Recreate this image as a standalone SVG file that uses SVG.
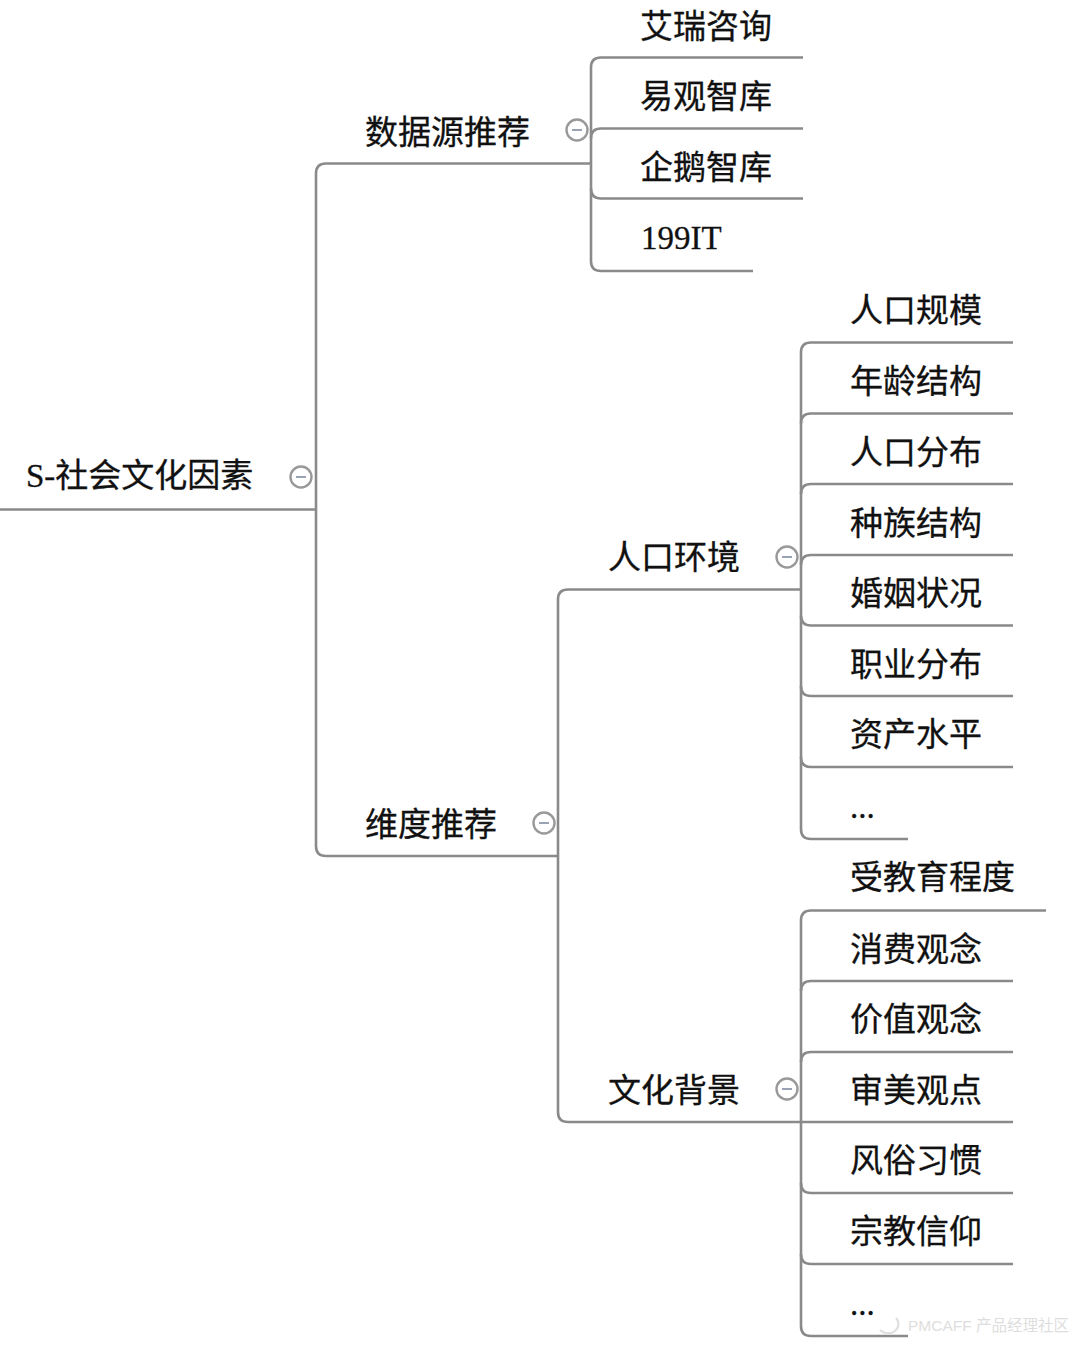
<svg xmlns="http://www.w3.org/2000/svg" width="1080" height="1345" viewBox="0 0 1080 1345">
<style>
text{font-family:"Liberation Serif","Noto Sans CJK SC",serif;font-size:33px;fill:#111;stroke:#111;stroke-width:.3}
.c path{fill:none;stroke:#8a8a8a;stroke-width:2.6}
.t circle{fill:#fff;stroke:#999;stroke-width:2.4}
.t line{stroke:#9aa3b5;stroke-width:2}
text.wm{font-family:"Liberation Sans","Noto Sans CJK SC",sans-serif;font-size:15.500px;fill:#dedede;stroke:none}
</style>
<defs>
<g id="toggle" class="t"><circle r="10.500"/><line x1="-5" x2="5" y1="0" y2="0"/></g>
</defs>
<rect width="1080" height="1345" fill="#fff"/>
<g id="connectors" class="c">
<path d="M0 509.500H316"/>
<path d="M591 163.500H326Q316 163.500 316 173.500V846Q316 856 326 856H558"/>
<path d="M803 57.500H601Q591 57.500 591 67.500V261Q591 271 601 271H753"/>
<path d="M803 128.500H601Q591 128.500 591 138.500"/>
<path d="M803 198.500H601Q591 198.500 591 188.500"/>
<path d="M801 589.500H568Q558 589.500 558 599.500V1112Q558 1122 568 1122H801"/>
<path d="M1013 342.500H811Q801 342.500 801 352.500V829Q801 839 811 839H908"/>
<path d="M1013 413.500H811Q801 413.500 801 423.500"/>
<path d="M1013 484H811Q801 484 801 494"/>
<path d="M1013 555H811Q801 555 801 565"/>
<path d="M1013 625.500H811Q801 625.500 801 615.500"/>
<path d="M1013 696H811Q801 696 801 686"/>
<path d="M1013 767H811Q801 767 801 757"/>
<path d="M1046 910.500H811Q801 910.500 801 920.500V1326Q801 1336 811 1336H908"/>
<path d="M1013 981H811Q801 981 801 991"/>
<path d="M1013 1052H811Q801 1052 801 1062"/>
<path d="M1013 1122H801"/>
<path d="M1013 1193H811Q801 1193 801 1183"/>
<path d="M1013 1264H811Q801 1264 801 1254"/>
</g>
<g id="n-root"><text x="26" y="487">S-社会文化因素</text><use href="#toggle" x="301" y="477"/></g>
<g id="n-source"><text x="365" y="144">数据源推荐</text><use href="#toggle" x="577" y="130"/></g>
<g id="n-dim"><text x="365" y="836">维度推荐</text><use href="#toggle" x="544" y="823"/></g>
<g id="n-pop"><text x="608" y="569">人口环境</text><use href="#toggle" x="787" y="557"/></g>
<g id="n-cul"><text x="608" y="1102">文化背景</text><use href="#toggle" x="787" y="1089"/></g>
<g id="n-s1"><text x="640" y="38">艾瑞咨询</text></g>
<g id="n-s2"><text x="640" y="108">易观智库</text></g>
<g id="n-s3"><text x="640" y="179">企鹅智库</text></g>
<g id="n-s4"><text x="641" y="249">199IT</text></g>
<g id="n-p1"><text x="850" y="322">人口规模</text></g>
<g id="n-p2"><text x="850" y="393">年龄结构</text></g>
<g id="n-p3"><text x="850" y="464">人口分布</text></g>
<g id="n-p4"><text x="850" y="535">种族结构</text></g>
<g id="n-p5"><text x="850" y="605">婚姻状况</text></g>
<g id="n-p6"><text x="850" y="676">职业分布</text></g>
<g id="n-p7"><text x="850" y="746">资产水平</text></g>
<g id="n-p8"><text x="850" y="818">...</text></g>
<g id="n-c1"><text x="850" y="889">受教育程度</text></g>
<g id="n-c2"><text x="850" y="961">消费观念</text></g>
<g id="n-c3"><text x="850" y="1031">价值观念</text></g>
<g id="n-c4"><text x="850" y="1102">审美观点</text></g>
<g id="n-c5"><text x="850" y="1172">风俗习惯</text></g>
<g id="n-c6"><text x="850" y="1243">宗教信仰</text></g>
<g id="n-c7"><text x="850" y="1315">...</text></g>
<g id="watermark"><path d="M880 1330A10 9 0 0 0 896 1318" fill="none" stroke="#dedede" stroke-width="2"/><text class="wm" x="908" y="1331">PMCAFF 产品经理社区</text></g>
</svg>
